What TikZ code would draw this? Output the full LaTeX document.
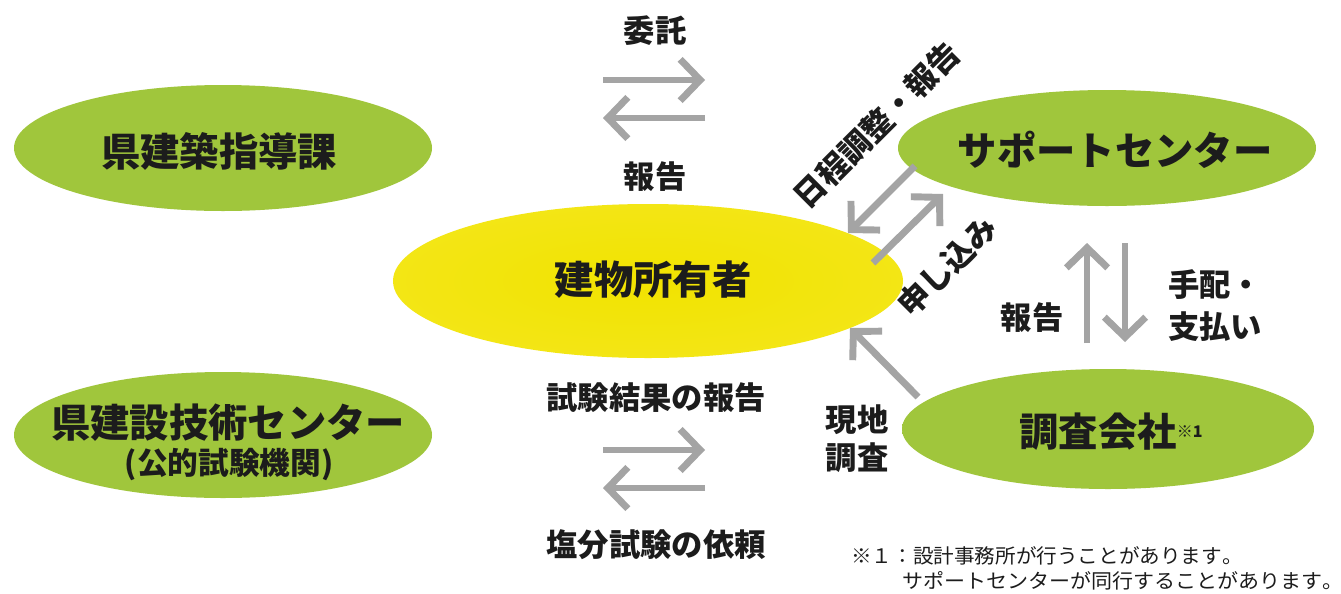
\documentclass[tikz,border=0pt]{standalone}
\usepackage{fontspec}
\usepackage{graphicx}
\setmainfont{Noto Sans CJK JP}
\newfontfamily\notefont{Noto Sans CJK JP}[Kerning=Off]
\usetikzlibrary{arrows.meta}
\definecolor{gC}{HTML}{A0C63C}
\definecolor{gE}{HTML}{86B224}
\definecolor{yC}{HTML}{F2E300}
\definecolor{yE}{HTML}{F3E720}
\definecolor{arr}{HTML}{A4A4A4}
\definecolor{txt}{HTML}{1C1C1C}
\pgfdeclareradialshading{greenblob}{\pgfpoint{0bp}{0bp}}{color(0bp)=(gC); color(26bp)=(gC); color(42bp)=(gE); color(46bp)=(gE!70!white); color(50bp)=(gE!12!white)}
\pgfdeclareradialshading{yellowblob}{\pgfpoint{0bp}{0bp}}{color(0bp)=(yC); color(38bp)=(yE); color(45bp)=(yE!85!white); color(50bp)=(yE!18!white)}
\tikzset{
  big/.style={text=txt, inner sep=0pt, font=\bfseries\fontsize{29.5pt}{34pt}\selectfont},
  lbl/.style={text=txt, inner sep=0pt, font=\bfseries\fontsize{23.5pt}{28pt}\selectfont},
  sublbl/.style={text=txt, inner sep=0pt, font=\bfseries\fontsize{23pt}{26pt}\selectfont},
  notetext/.style={text=txt, inner sep=0pt, anchor=west, font=\notefont\fontsize{15pt}{18pt}\selectfont},
  flow/.style={draw=arr, line width=5.2pt, -{Straight Barb[length=15pt,width=31pt]}},
}
\begin{document}
\begin{tikzpicture}[x=0.75pt,y=-0.75pt]
\useasboundingbox (0,0) rectangle (1341,593);
\fill[white] (0,0) rectangle (1341,593);

% blobs
\path[shading=greenblob] (223,148) ellipse [x radius=209, y radius=63];
\path[shading=greenblob] (223,435) ellipse [x radius=209, y radius=63];
\path[shading=yellowblob] (648,281) ellipse [x radius=255, y radius=77];
\path[shading=greenblob] (1107,148) ellipse [x radius=209, y radius=58];
\path[shading=greenblob] (1108,429) ellipse [x radius=206, y radius=60];

% node texts
\node[big] (kenchiku) at (219,151) {県建築指導課};
\node[big] (kensetsu) at (228,423) {県建設技術センター};
\node[sublbl] (kensetsu2) at (229,465) {(公的試験機関)};
\node[big] (owner) at (653,280) {建物所有者};
\node[big] (support) at (1115,150) {サポートセンター};
\node[big] (chosa) at (1111,432) {調査会社\raisebox{7pt}{\fontsize{12pt}{12pt}\selectfont ※1}};

% arrow end points
\coordinate (t1s) at (603,80);  \coordinate (t1e) at (705,80);
\coordinate (t2s) at (705,118); \coordinate (t2e) at (603,118);
\coordinate (d1s) at (915,166); \coordinate (d1e) at (848,233);
\coordinate (d2s) at (873,263); \coordinate (d2e) at (943,194);
\coordinate (v1s) at (1087,343); \coordinate (v1e) at (1087,243);
\coordinate (v2s) at (1125,243); \coordinate (v2e) at (1125,342);
\coordinate (g1s) at (918,397); \coordinate (g1e) at (850,328);
\coordinate (b1s) at (603,450); \coordinate (b1e) at (705,450);
\coordinate (b2s) at (705,488); \coordinate (b2e) at (603,488);

\draw[flow] (t1s) -- (t1e);
\draw[flow] (t2s) -- (t2e);
\draw[flow] (d1s) -- (d1e);
\draw[flow] (d2s) -- (d2e);
\draw[flow] (v1s) -- (v1e);
\draw[flow] (v2s) -- (v2e);
\draw[flow] (g1s) -- (g1e);
\draw[flow] (b1s) -- (b1e);
\draw[flow] (b2s) -- (b2e);

% labels
\node[lbl] (itaku) at (655,31) {委託};
\node[lbl] (hokoku1) at (655,177) {報告};
\node[lbl, rotate=45] (nittei) at (877,125) {日程調整・報告};
\node[lbl, rotate=45] (moushikomi) at (947,266) {申し込み};
\node[lbl] (hokoku2) at (1032,318) {報告};
\node[lbl, anchor=west] (tehai) at (1168,285) {手配・};
\node[lbl, anchor=west] (shiharai) at (1168,327) {支払い};
\node[lbl] (genchi) at (857,420) {現地};
\node[lbl] (chosa2) at (857,458) {調査};
\node[lbl] (kekka) at (656,398) {試験結果の報告};
\node[lbl] (irai) at (656,545) {塩分試験の依頼};

% note
\node[notetext] (note1) at (851,556) {\scalebox{1.03}[1]{※１：設計事務所が行うことがあります。}};
\node[notetext] (note2) at (902,581) {\scalebox{1.05}[1]{サポートセンターが同行することがあります。}};
\end{tikzpicture}
\end{document}
